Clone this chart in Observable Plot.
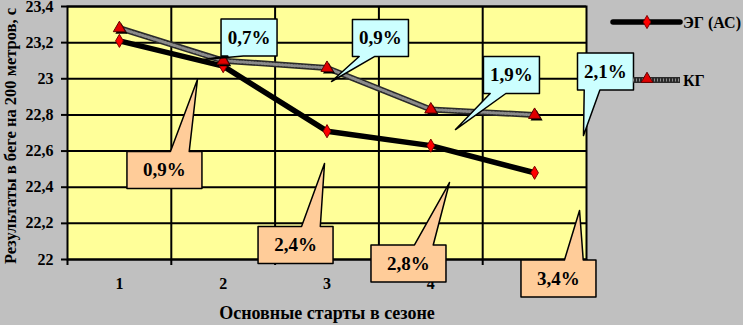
<!DOCTYPE html>
<html><head><meta charset="utf-8">
<script src="https://cdn.jsdelivr.net/npm/d3@7"></script>
<script src="https://cdn.jsdelivr.net/npm/@observablehq/plot@0.6"></script>
<style>
html,body{margin:0;padding:0;background:#C0C0C0;font-family:"Liberation Serif",serif;}
#chart{width:743px;height:325px;overflow:hidden;position:relative;}
</style>
</head><body><div id="chart"></div>
<script>
// ---- data ----
const starts = [1, 2, 3, 4, 5];
const egValues = [23.21, 23.07, 22.71, 22.63, 22.48];
const kgValues = [23.28, 23.10, 23.06, 22.83, 22.80];
const seriesNames = ["ЭГ (АС)", "КГ"];
const yTicks = [22, 22.2, 22.4, 22.6, 22.8, 23, 23.2, 23.4];
const yTitle = "Результаты в беге на 200 метров, с";
const xTitle = "Основные старты в сезоне";

// callouts (КГ: blue, ЭГ: orange); anchor = box centre, tip = pointer tip (data units)
const kgLabels = ["0,7%", "0,9%", "1,9%", "2,1%"];
const kgBoxX = [2.249, 3.515, 4.777, 5.683];
const kgBoxY = [23.228, 23.226, 23.021, 23.040];
const kgTipX = [1.810, 3.043, 4.238, 5.471];
const kgTipY = [23.107, 22.985, 22.719, 22.686];

const egLabels = ["0,9%", "2,4%", "2,8%", "3,4%"];
const egBoxX = [1.434, 2.697, 3.785, 5.230];
const egBoxY = [22.495, 22.080, 21.978, 21.895];
const egTipX = [1.752, 2.976, 4.180, 5.433];
const egTipY = [22.996, 22.531, 22.426, 22.271];

// ---- layout ----
const FONT = "Liberation Serif, DejaVu Serif, serif";
const W = 743, H = 325, ML = 67, MR = 157, MT = 6, MB = 66;
const PX_X = (W - ML - MR) / 5, PX_Y = (H - MT - MB) / 1.4;

function calloutPoly(id, cx, cy, tx, ty, wPx, hPx, side, f0, f1) {
  const hw = wPx / 2 / PX_X, hh = hPx / 2 / PX_Y;
  const L = cx - hw, R = cx + hw, T = cy + hh, B = cy - hh;
  const b0 = L + f0 * 2 * hw, b1 = L + f1 * 2 * hw;
  let pts;
  if (side === "bottom") pts = [[L,T],[R,T],[R,B],[b1,B],[tx,ty],[b0,B],[L,B],[L,T]];
  else pts = [[L,T],[b0,T],[tx,ty],[b1,T],[R,T],[R,B],[L,B],[L,T]];
  return pts.map(([x, y]) => ({id, x, y}));
}

const egData = starts.map((s, i) => ({x: s, y: egValues[i]}));
const kgData = starts.map((s, i) => ({x: s, y: kgValues[i]}));

const bluePolys = kgLabels.flatMap((l, i) =>
  calloutPoly("b" + i, kgBoxX[i], kgBoxY[i], kgTipX[i], kgTipY[i], 56, 37, "bottom", 0.12, 0.4));
const orangePolys = egLabels.flatMap((l, i) =>
  calloutPoly("o" + i, egBoxX[i], egBoxY[i], egTipX[i], egTipY[i], 75, 37, "top", 0.58, 0.83));
const blueText = kgLabels.map((l, i) => ({l, x: kgBoxX[i], y: kgBoxY[i]}));
const orangeText = egLabels.map((l, i) => ({l, x: egBoxX[i], y: egBoxY[i]}));

const boundaries = [starts[0] - 0.5, ...starts.map(s => s + 0.5)];
const fmt = d => String(d).replace(".", ",");

const chart = Plot.plot({
  width: W, height: H,
  marginLeft: ML, marginRight: MR, marginTop: MT, marginBottom: MB,
  style: {background: "#C0C0C0", fontFamily: FONT,
          fontWeight: "bold", fontSize: "15px", color: "black", overflow: "visible"},
  x: {domain: [boundaries[0], boundaries[boundaries.length - 1]], axis: null},
  y: {domain: [yTicks[0], yTicks[yTicks.length - 1]], axis: null},
  marks: [
    Plot.frame({fill: "#FFFF99", stroke: "none"}),
    Plot.gridY({ticks: yTicks, stroke: "black", strokeOpacity: 1, strokeWidth: 2}),
    Plot.gridX({ticks: boundaries.slice(1, -1), stroke: "black", strokeOpacity: 1, strokeWidth: 2}),
    Plot.frame({stroke: "black", strokeWidth: 2}),
    Plot.axisY({ticks: yTicks, tickFormat: fmt, tickSize: 6, tickPadding: 8, label: null,
                fontSize: 16, fontWeight: "bold", fontFamily: FONT, strokeWidth: 2}),
    Plot.axisX({ticks: boundaries, tickFormat: () => "", tickSize: 6, label: null, strokeWidth: 2}),
    Plot.axisX({ticks: starts, tickFormat: d => String(d), tickSize: 0, tickPadding: 18, label: null,
                fontSize: 16, fontWeight: "bold", fontFamily: FONT}),
    Plot.text([yTitle], {frameAnchor: "left", dx: -57, dy: 3, rotate: -90, textAnchor: "middle",
                         fontSize: 16.5, fontWeight: "bold", fontFamily: FONT}),
    Plot.text([xTitle], {frameAnchor: "bottom", dy: 54, lineAnchor: "middle", textAnchor: "middle",
                         fontSize: 18, fontWeight: "bold", fontFamily: FONT}),
    // ЭГ line
    Plot.line(egData, {x: "x", y: "y", stroke: "black", strokeWidth: 5.5}),
    // КГ hatched line
    Plot.line(kgData, {x: "x", y: "y", stroke: "#2a2a2a", strokeWidth: 6}),
    Plot.line(kgData, {x: "x", y: "y", stroke: "#8a8a8a", strokeWidth: 3, strokeDasharray: "1,2"}),
    // markers
    Plot.dot(egData, {x: "x", y: "y", symbol: "diamond", r: 4, fill: "red", stroke: "#800000", strokeWidth: 1}),
    Plot.dot(kgData, {x: "x", y: "y", symbol: "triangle", r: 4.5, fill: "black", dx: 2, dy: 2}),
    Plot.dot(kgData, {x: "x", y: "y", symbol: "triangle", r: 4.5, fill: "#e00000", stroke: "#600000", strokeWidth: 1}),
    // callouts
    Plot.line(bluePolys, {x: "x", y: "y", z: "id", fill: "#CCFFFF", stroke: "black", strokeWidth: 1.5}),
    Plot.line(orangePolys, {x: "x", y: "y", z: "id", fill: "#FFCC99", stroke: "black", strokeWidth: 1.5}),
    Plot.text(blueText, {x: "x", y: "y", text: "l", fontSize: 19, fontWeight: "bold", fontFamily: FONT}),
    Plot.text(orangeText, {x: "x", y: "y", text: "l", fontSize: 19, fontWeight: "bold", fontFamily: FONT})
  ]
});

// legend
const svg = d3.select(chart);
const lg = svg.append("g").attr("font-family", FONT).attr("font-weight", "bold")
  .attr("font-size", 16).attr("text-anchor", "start");
const sym = d3.symbol();
// ЭГ
lg.append("line").attr("x1", 613).attr("x2", 680).attr("y1", 22).attr("y2", 22)
  .attr("stroke", "black").attr("stroke-width", 5.5).attr("stroke-linecap", "round");
lg.append("path").attr("transform", "translate(647,22)").attr("d", sym.type(d3.symbolDiamond).size(50)())
  .attr("fill", "red").attr("stroke", "#800000");
lg.append("text").attr("x", 683).attr("y", 22).attr("dy", "0.35em").text(seriesNames[0]);
// КГ
lg.append("line").attr("x1", 633).attr("x2", 680).attr("y1", 80).attr("y2", 80)
  .attr("stroke", "#2a2a2a").attr("stroke-width", 6);
lg.append("line").attr("x1", 633).attr("x2", 680).attr("y1", 80).attr("y2", 80)
  .attr("stroke", "#8a8a8a").attr("stroke-width", 3).attr("stroke-dasharray", "1,2");
lg.append("path").attr("transform", "translate(647,79)").attr("d", sym.type(d3.symbolTriangle).size(60)())
  .attr("fill", "#e00000").attr("stroke", "#600000");
lg.append("text").attr("x", 683).attr("y", 80).attr("dy", "0.35em").text(seriesNames[1]);

document.getElementById("chart").appendChild(chart);
</script></body></html>
